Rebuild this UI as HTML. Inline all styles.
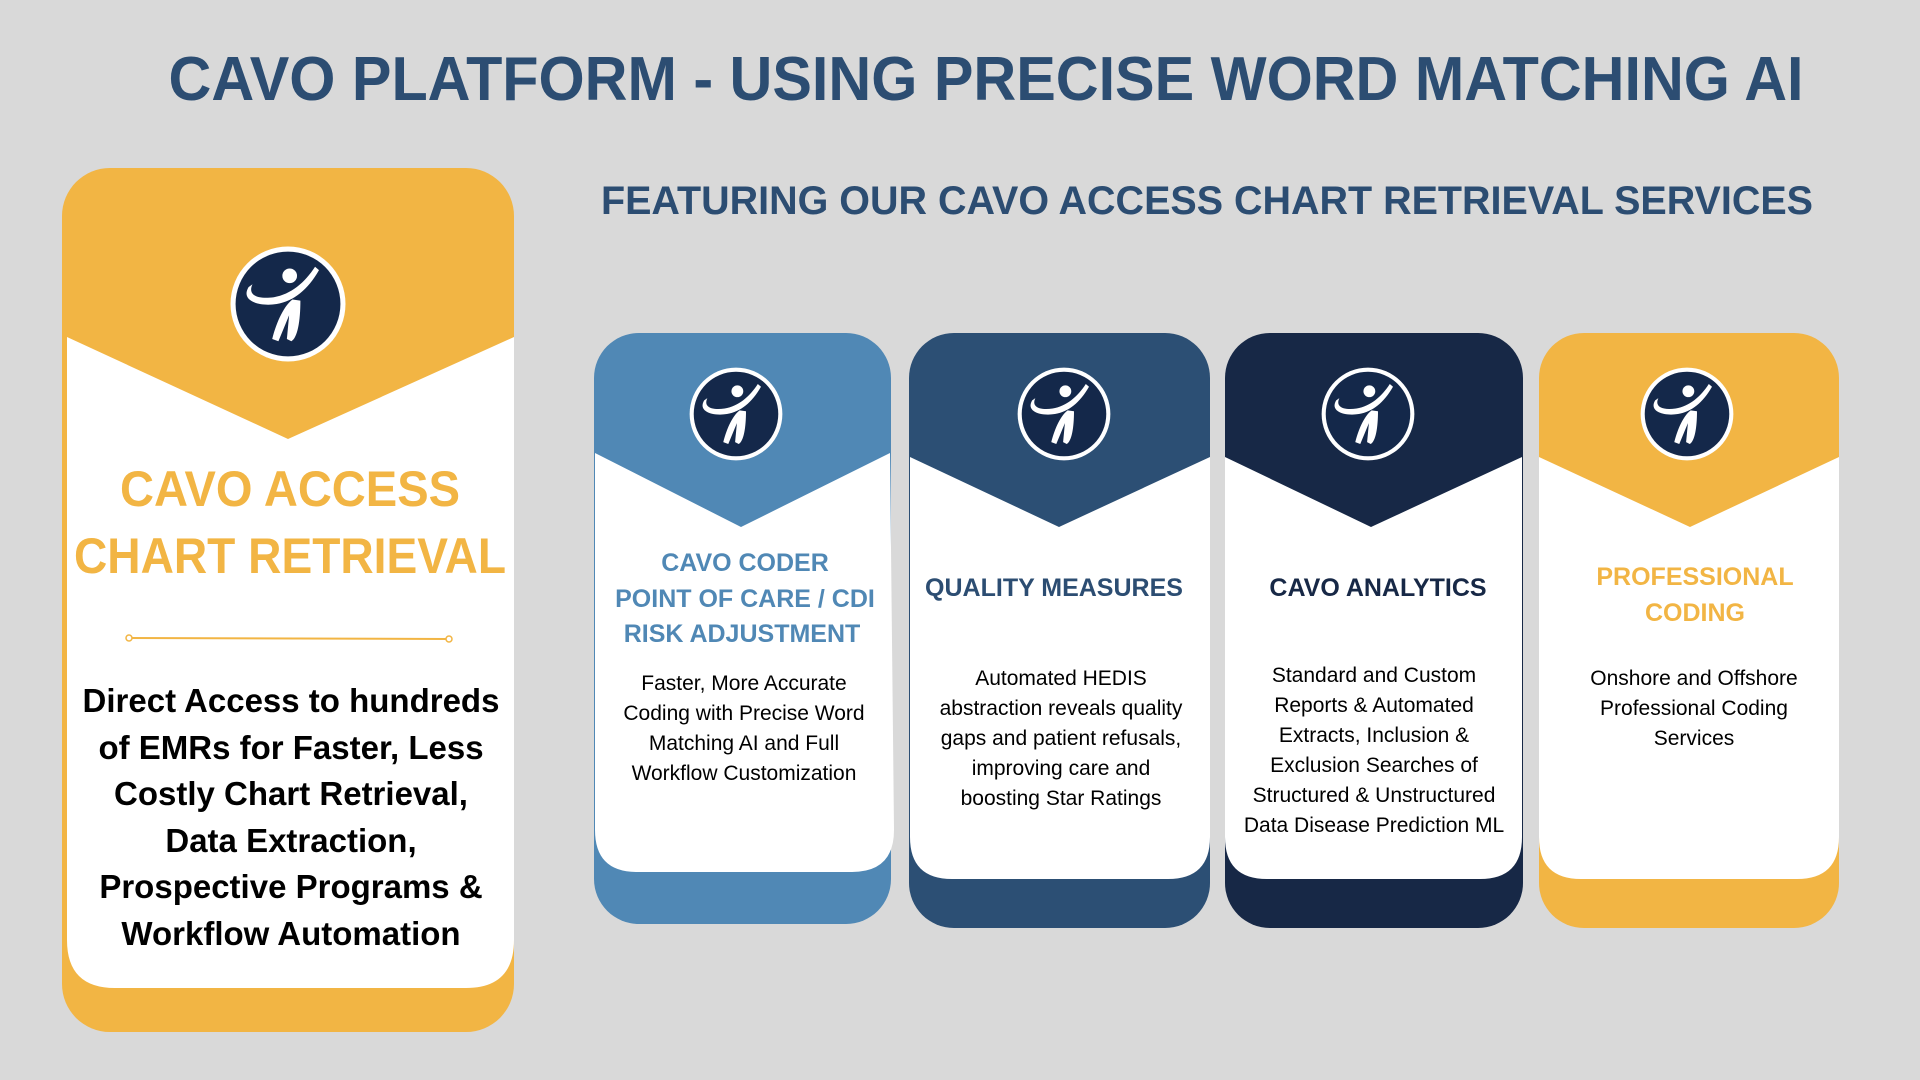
<!DOCTYPE html>
<html><head><meta charset="utf-8"><style>
html,body{margin:0;padding:0;background:#d9d9d9;width:1920px;height:1080px;overflow:hidden}
svg{display:block}
text{font-family:"Liberation Sans",sans-serif}
</style></head><body>
<svg width="1920" height="1080" viewBox="0 0 1920 1080" xmlns="http://www.w3.org/2000/svg">
<defs>
<symbol id="logo" viewBox="-1.1 -1.1 2.2 2.2">
<circle cx="0" cy="0" r="1.02" fill="#fff"/>
<circle cx="0" cy="0" r="0.93" fill="#14284a"/>
<circle cx="0.03" cy="-0.5" r="0.13" fill="#fff"/>
<path fill="#fff" d="M-0.7,-0.3 C-0.85,-0.05 -0.5,0.05 -0.2,0.0 C0.1,-0.05 0.35,-0.25 0.55,-0.6 L0.48,-0.66 C0.3,-0.38 0.05,-0.17 -0.25,-0.12 C-0.55,-0.08 -0.72,-0.16 -0.63,-0.35 Z"/>
<path fill="#fff" d="M0.08,-0.08 L0.22,-0.06 C0.22,0.3 0.17,0.6 0.06,0.66 L-0.02,0.62 L0.02,0.2 L-0.17,0.66 L-0.28,0.62 C-0.2,0.3 -0.06,0.02 0.08,-0.08 Z"/>
</symbol>
</defs>

<text x="986" y="100" text-anchor="middle" font-size="62" font-weight="bold" fill="#2c4d72" textLength="1635" lengthAdjust="spacingAndGlyphs">CAVO PLATFORM - USING PRECISE WORD MATCHING AI</text>
<text x="1207" y="214" text-anchor="middle" font-size="40" font-weight="bold" fill="#2c4d72" textLength="1212" lengthAdjust="spacingAndGlyphs">FEATURING OUR CAVO ACCESS CHART RETRIEVAL SERVICES</text>

<!-- Big card -->
<rect x="62" y="168" width="452" height="864" rx="48" fill="#f2b544"/>
<path fill="#fff" d="M67,337 L288,439 L514,337 L514,940 Q514,988 466,988 L115,988 Q67,988 67,940 Z"/>
<use href="#logo" x="226" y="242" width="124" height="124"/>
<text x="290" y="506" text-anchor="middle" font-size="50" font-weight="bold" fill="#f2b544" textLength="340" lengthAdjust="spacingAndGlyphs">CAVO ACCESS</text>
<text x="290" y="573" text-anchor="middle" font-size="50" font-weight="bold" fill="#f2b544" textLength="432" lengthAdjust="spacingAndGlyphs">CHART RETRIEVAL</text>
<line x1="129" y1="638" x2="449" y2="639" stroke="#f2b544" stroke-width="2"/>
<circle cx="129" cy="638" r="3" fill="#fff" stroke="#f2b544" stroke-width="1.5"/>
<circle cx="449" cy="639" r="3" fill="#fff" stroke="#f2b544" stroke-width="1.5"/>
<g font-size="33" font-weight="bold" fill="#000" text-anchor="middle">
<text x="291" y="712">Direct Access to hundreds</text>
<text x="291" y="759">of EMRs for Faster, Less</text>
<text x="291" y="805">Costly Chart Retrieval,</text>
<text x="291" y="852">Data Extraction,</text>
<text x="291" y="898">Prospective Programs &amp;</text>
<text x="291" y="945">Workflow Automation</text>
</g>

<!-- Card 1 -->
<rect x="594" y="333" width="297" height="591" rx="45" fill="#5088b5"/>
<path fill="#fff" d="M595,453 L741,527 L890,453 L894,830 Q894,872 852,872 L637,872 Q595,872 595,830 Z"/>
<use href="#logo" x="686" y="364" width="100" height="100"/>
<g font-size="25" font-weight="bold" fill="#5088b5" text-anchor="middle">
<text x="745" y="571">CAVO CODER</text>
<text x="745" y="607">POINT OF CARE / CDI</text>
<text x="742" y="642">RISK ADJUSTMENT</text>
</g>
<g font-size="21" fill="#000" text-anchor="middle">
<text x="744" y="690">Faster, More Accurate</text>
<text x="744" y="720">Coding with Precise Word</text>
<text x="744" y="750">Matching AI and Full</text>
<text x="744" y="780">Workflow Customization</text>
</g>

<!-- Card 2 -->
<rect x="909" y="333" width="301" height="595" rx="45" fill="#2c4f74"/>
<path fill="#fff" d="M910,457 L1059,527 L1210,457 L1210,837 Q1210,879 1168,879 L952,879 Q910,879 910,837 Z"/>
<use href="#logo" x="1014" y="364" width="100" height="100"/>
<text x="1054" y="596" text-anchor="middle" font-size="25" font-weight="bold" fill="#2c4d72">QUALITY MEASURES</text>
<g font-size="21" fill="#000" text-anchor="middle">
<text x="1061" y="685">Automated HEDIS</text>
<text x="1061" y="715">abstraction reveals quality</text>
<text x="1061" y="745">gaps and patient refusals,</text>
<text x="1061" y="775">improving care and</text>
<text x="1061" y="805">boosting Star Ratings</text>
</g>

<!-- Card 3 -->
<rect x="1225" y="333" width="298" height="595" rx="45" fill="#172846"/>
<path fill="#fff" d="M1225,457 L1371,527 L1522,457 L1522,837 Q1522,879 1480,879 L1267,879 Q1225,879 1225,837 Z"/>
<use href="#logo" x="1318" y="364" width="100" height="100"/>
<text x="1378" y="596" text-anchor="middle" font-size="25" font-weight="bold" fill="#172846">CAVO ANALYTICS</text>
<g font-size="21" fill="#000" text-anchor="middle">
<text x="1374" y="682">Standard and Custom</text>
<text x="1374" y="712">Reports &amp; Automated</text>
<text x="1374" y="742">Extracts, Inclusion &amp;</text>
<text x="1374" y="772">Exclusion Searches of</text>
<text x="1374" y="802">Structured &amp; Unstructured</text>
<text x="1374" y="832">Data Disease Prediction ML</text>
</g>

<!-- Card 4 -->
<rect x="1539" y="333" width="300" height="595" rx="45" fill="#f2b544"/>
<path fill="#fff" d="M1539,457 L1690,527 L1839,457 L1839,837 Q1839,879 1797,879 L1581,879 Q1539,879 1539,837 Z"/>
<use href="#logo" x="1637" y="364" width="100" height="100"/>
<g font-size="25" font-weight="bold" fill="#f2b544" text-anchor="middle">
<text x="1695" y="585">PROFESSIONAL</text>
<text x="1695" y="621">CODING</text>
</g>
<g font-size="21" fill="#000" text-anchor="middle">
<text x="1694" y="685">Onshore and Offshore</text>
<text x="1694" y="715">Professional Coding</text>
<text x="1694" y="745">Services</text>
</g>
</svg>
</body></html>
